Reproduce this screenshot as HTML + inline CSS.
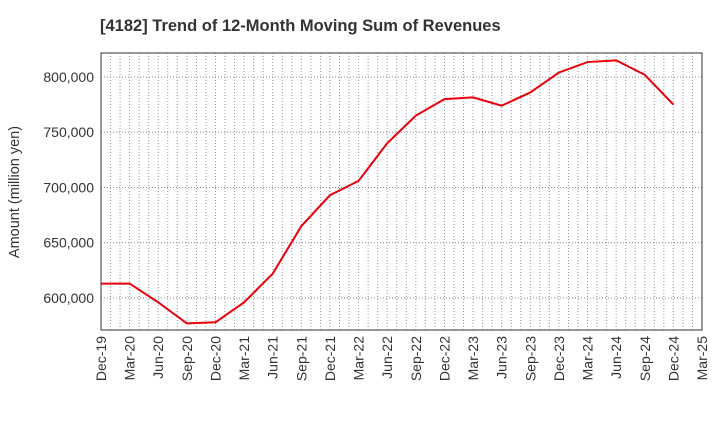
<!DOCTYPE html>
<html><head><meta charset="utf-8"><style>
body{margin:0;background:#fff;font-family:"Liberation Sans",sans-serif;}
</style></head><body>
<svg width="720" height="440" xmlns="http://www.w3.org/2000/svg">
<text x="100" y="31" font-size="16.5" font-weight="bold" fill="#333">[4182]  Trend of 12-Month Moving Sum of Revenues</text>
<g id="grid"></g>
<g id="yaxis"></g>
<g id="xaxis"></g>
<polyline id="line" fill="none" stroke="#e8000b" stroke-width="2"/>
<rect x="101" y="53" width="601" height="277" fill="none" stroke="#333" stroke-width="1"/>
<text transform="translate(19,192) rotate(-90)" text-anchor="middle" font-size="14.5" fill="#333">Amount (million yen)</text>
</svg>
<script>
const categories=["Dec-19","Mar-20","Jun-20","Sep-20","Dec-20","Mar-21","Jun-21","Sep-21","Dec-21","Mar-22","Jun-22","Sep-22","Dec-22","Mar-23","Jun-23","Sep-23","Dec-23","Mar-24","Jun-24","Sep-24","Dec-24","Mar-25"];
const values=[613000,613000,596000,577000,578000,596000,622000,665000,693000,706000,740000,765000,780000,781500,774000,786000,804000,813500,815000,802000,775000];
const yTicks=[600000,650000,700000,750000,800000];
const yTickLabels=["600,000","650,000","700,000","750,000","800,000"];
const NS="http://www.w3.org/2000/svg";
const L=101,R=702,T=53,B=330;
const yMin=571000,yMax=821700;
function xs(i){return L+(R-L)*i/(categories.length-1);}
function ys(v){return B-(v-yMin)/(yMax-yMin)*(B-T);}
function mk(tag,attrs,parent){const e=document.createElementNS(NS,tag);for(const k in attrs)e.setAttribute(k,attrs[k]);document.getElementById(parent).appendChild(e);return e;}
const nMonths=(categories.length-1)*3;
for(let m=1;m<nMonths;m++){
  const x=L+(R-L)*m/nMonths;
  const g=mk("line",{x1:x,x2:x,y1:T,y2:B,stroke:"#999","stroke-dasharray":"1,2","stroke-width":1},"grid");
  
  
}
yTicks.forEach((v,i)=>{
  const y=ys(v);
  const g=mk("line",{x1:L,x2:R,y1:y,y2:y,stroke:"#888","stroke-dasharray":"1,2","stroke-width":1},"grid");
  
  
  const t=mk("text",{x:L-7,y:y+5,"text-anchor":"end","font-size":14,fill:"#333"},"yaxis");
  t.textContent=yTickLabels[i];
  
  
});
categories.forEach((c,i)=>{
  const x=xs(i);
  const t=mk("text",{transform:`translate(${x+5},${B+6}) rotate(-90)`,"text-anchor":"end","font-size":14,fill:"#333"},"xaxis");
  t.textContent=c;
  
  
});
document.getElementById("line").setAttribute("points",values.map((v,i)=>xs(i)+","+ys(v)).join(" "));
</script>
</body></html>
